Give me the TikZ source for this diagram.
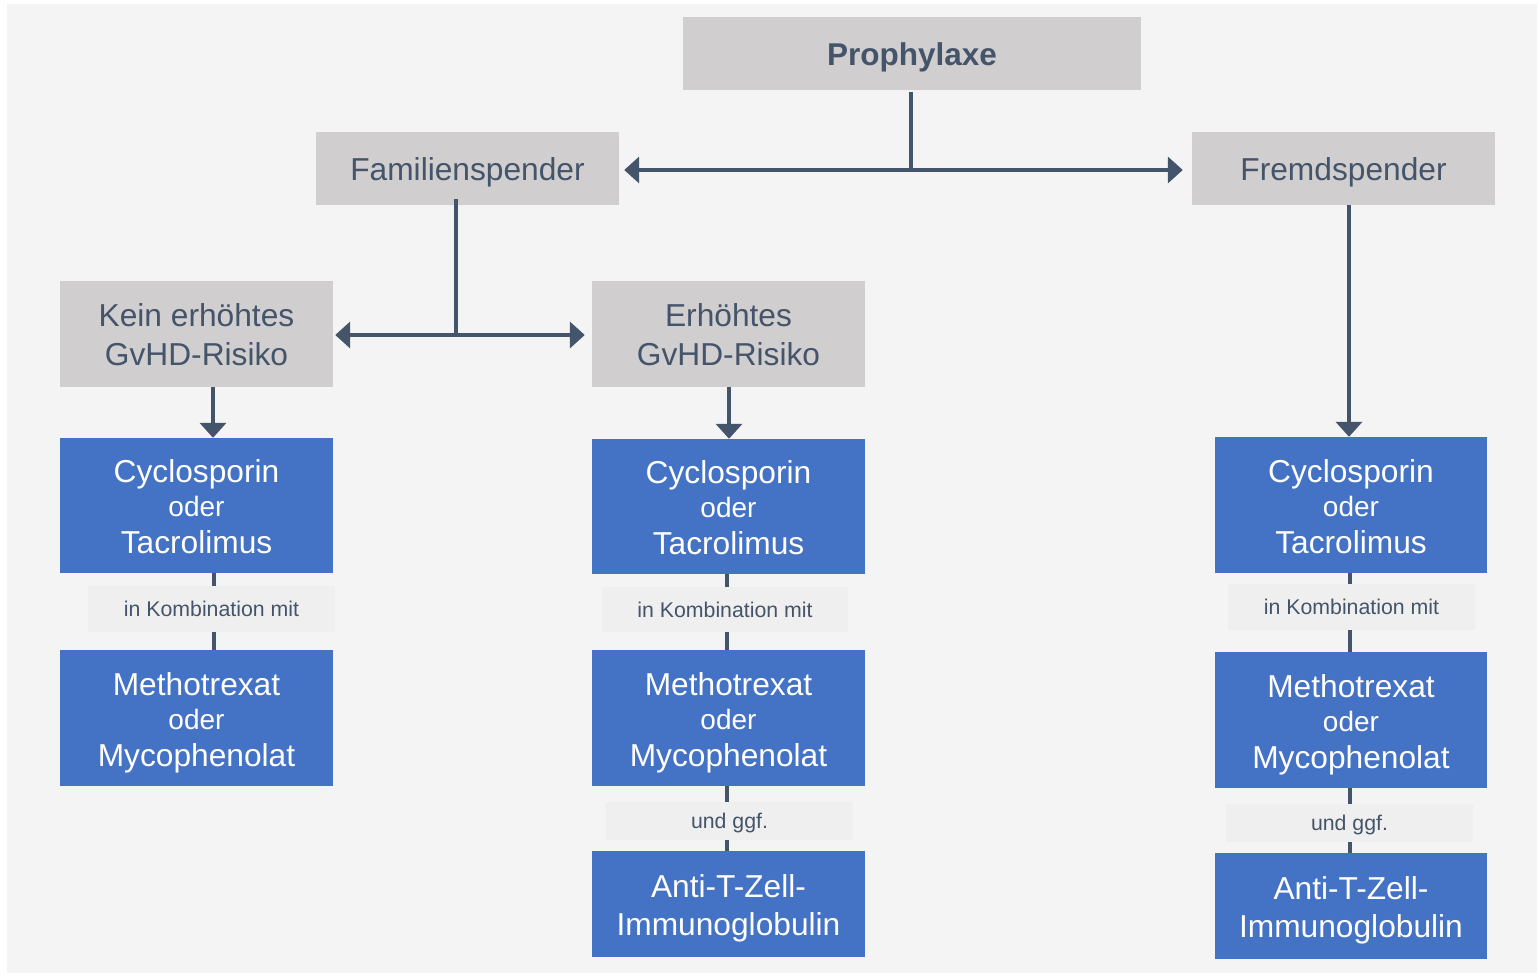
\documentclass[tikz,border=0pt]{standalone}
\usepackage{fontspec}
\setmainfont{Liberation Sans}
\usetikzlibrary{arrows.meta}
\definecolor{bgc}{HTML}{F4F4F4}
\definecolor{boxg}{HTML}{D0CECE}
\definecolor{boxb}{HTML}{4472C4}
\definecolor{labg}{HTML}{EFEFEF}
\definecolor{ink}{HTML}{44546A}
\newcommand\topstrt{\rule{0pt}{31pt}}
\newcommand\botstrt{\rule[-8pt]{0pt}{8pt}}
\newcommand\btop{\rule{0pt}{33pt}}
\newcommand\bbot{\rule[-8pt]{0pt}{8pt}}
\newcommand\ltop{\rule{0pt}{20pt}}
\newcommand\lbot{\rule[-5pt]{0pt}{5pt}}
\begin{document}
\begin{tikzpicture}[x=1pt,y=-1pt,
  graybox/.style={fill=boxg, text=ink, inner sep=0pt, align=center, font=\fontsize{31.7}{39}\selectfont},
  bluebox/.style={fill=boxb, text=white, inner sep=0pt, align=center, minimum width=273pt, minimum height=136pt, font=\fontsize{31.7}{36}\selectfont},
  labelbox/.style={fill=labg, text=ink, inner sep=0pt, minimum width=247pt, minimum height=46pt, font=\fontsize{21.3}{26}\selectfont},
  conn/.style={draw=ink, line width=4pt},
  arr/.style={conn, -{Triangle[length=15pt,width=26pt]}},
]
\useasboundingbox (0,0) rectangle (1539,975);
\fill[white] (0,0) rectangle (1539,975);
\fill[bgc] (7,4) rectangle (1537,973);

% top level
\node[graybox, minimum width=458pt, minimum height=73pt, font=\fontsize{31.5}{39}\selectfont\bfseries] (proph) at (912,53.5) {\topstrt Prophylaxe\botstrt};
\node[graybox, minimum width=303pt, minimum height=73pt] (fam) at (467.5,168.5) {\topstrt Familienspender\botstrt};
\node[graybox, minimum width=303pt, minimum height=73pt] (frem) at (1343.5,168.5) {\topstrt Fremdspender\botstrt};
\node[graybox, minimum width=273pt, minimum height=106pt] (kein) at (196.5,334) {\topstrt Kein erhöhtes\\GvHD-Risiko\botstrt};
\node[graybox, minimum width=273pt, minimum height=106pt] (erh) at (728.5,334) {\topstrt Erhöhtes\\GvHD-Risiko\botstrt};

% blue boxes
\node[bluebox, minimum height=135pt] (lcyc) at (196.5,505.5) {\btop Cyclosporin\\[-2pt]{\fontsize{28}{36}\selectfont oder}\\[1pt]Tacrolimus\bbot};
\node[bluebox] (lmeth) at (196.5,718) {\btop Methotrexat\\[-2pt]{\fontsize{28}{36}\selectfont oder}\\[1pt]Mycophenolat\bbot};
\node[bluebox, minimum height=135pt] (mcyc) at (728.5,506.5) {\btop Cyclosporin\\[-2pt]{\fontsize{28}{36}\selectfont oder}\\[1pt]Tacrolimus\bbot};
\node[bluebox] (mmeth) at (728.5,718) {\btop Methotrexat\\[-2pt]{\fontsize{28}{36}\selectfont oder}\\[1pt]Mycophenolat\bbot};
\node[bluebox, minimum height=106pt, font=\fontsize{31.7}{39}\selectfont] (manti) at (728.5,904) {\btop Anti-T-Zell-\\[-1pt]Immunoglobulin\bbot};
\node[bluebox, minimum width=272pt] (rcyc) at (1351,505) {\btop Cyclosporin\\[-2pt]{\fontsize{28}{36}\selectfont oder}\\[1pt]Tacrolimus\bbot};
\node[bluebox, minimum width=272pt] (rmeth) at (1351,720) {\btop Methotrexat\\[-2pt]{\fontsize{28}{36}\selectfont oder}\\[1pt]Mycophenolat\bbot};
\node[bluebox, minimum width=272pt, minimum height=106pt, font=\fontsize{31.7}{39}\selectfont] (ranti) at (1351,906) {\btop Anti-T-Zell-\\[-1pt]Immunoglobulin\bbot};

% column coordinates
\coordinate (pj) at (911,170);
\coordinate (fj) at (456,335);
\coordinate (cL) at (213,0);
\coordinate (cLl) at (214,0);
\coordinate (cM) at (729,0);
\coordinate (cMl) at (727,0);
\coordinate (cR) at (1349,0);
\coordinate (cRl) at (1349.5,0);

% connectors
\draw[conn, shorten <=2pt] (proph.south -| pj) -- (pj);
\draw[arr, shorten >=5pt] (pj) -- (fam.east |- pj);
\draw[arr, shorten >=9pt] (pj) -- (frem.west |- pj);
\draw[conn, shorten <=-6pt] (fam.south -| fj) -- (fj);
\draw[arr, shorten >=2pt] (fj) -- (kein.east |- fj);
\draw[arr, shorten >=7pt] (fj) -- (erh.west |- fj);
\draw[arr] (kein.south -| cL) -- (lcyc.north -| cL);
\draw[arr] (erh.south -| cM) -- (mcyc.north -| cM);
\draw[arr] (frem.south -| cR) -- (rcyc.north -| cR);
\draw[conn] (lcyc.south -| cLl) -- (lmeth.north -| cLl);
\draw[conn] (mcyc.south -| cMl) -- (mmeth.north -| cMl);
\draw[conn] (mmeth.south -| cMl) -- (manti.north -| cMl);
\draw[conn] (rcyc.south -| cRl) -- (rmeth.north -| cRl);
\draw[conn] (rmeth.south -| cRl) -- (ranti.north -| cRl);

% labels
\node[labelbox] (llab) at (211.5,609) {\ltop in Kombination mit\lbot};
\node[labelbox, minimum width=246pt, minimum height=45pt] (mlab) at (725,609.5) {\ltop in Kombination mit\lbot};
\node[labelbox] (rlab) at (1351.5,607) {\ltop in Kombination mit\lbot};
\node[labelbox, minimum height=38pt] (mund) at (729.5,821) {\ltop und ggf.\lbot};
\node[labelbox, minimum height=38pt] (rund) at (1349.5,823) {\ltop und ggf.\lbot};
\end{tikzpicture}
\end{document}
